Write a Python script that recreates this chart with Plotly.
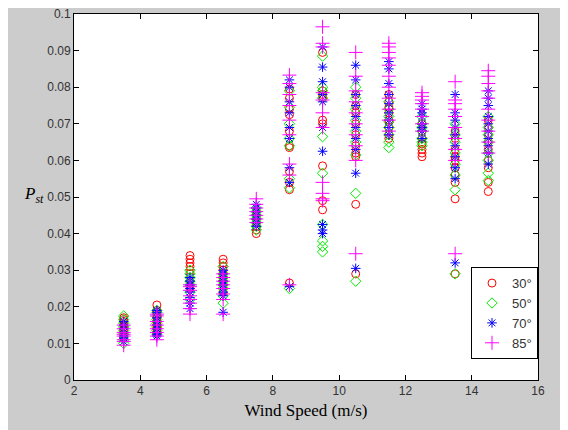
import plotly.graph_objects as go

# --------------------------------------------------------------
# Data
# --------------------------------------------------------------
wind_speed = [3.5, 4.5, 5.5, 6.5, 7.5, 8.5, 9.5, 10.5, 11.5, 12.5, 13.5, 14.5]
angle_names = ["30°", "50°", "70°", "85°"]

pst_30 = [
    [0.0115, 0.0125, 0.0135, 0.014, 0.015, 0.016, 0.0165, 0.017],
    [0.013, 0.014, 0.015, 0.016, 0.017, 0.018, 0.019, 0.0205],
    [0.025, 0.027, 0.029, 0.030, 0.031, 0.032, 0.033, 0.034],
    [0.024, 0.026, 0.027, 0.028, 0.029, 0.030, 0.031, 0.032, 0.033],
    [0.040, 0.041, 0.042, 0.043, 0.044, 0.045, 0.046],
    [0.0265, 0.052, 0.054, 0.057, 0.0635, 0.064, 0.068, 0.0725, 0.074, 0.077, 0.0795],
    [0.0465, 0.049, 0.0585, 0.070, 0.071, 0.077, 0.078, 0.079, 0.0895],
    [0.029, 0.048, 0.061, 0.062, 0.064, 0.067, 0.070, 0.073, 0.075, 0.078],
    [0.066, 0.067, 0.069, 0.071, 0.073, 0.0745, 0.076, 0.078],
    [0.061, 0.062, 0.063, 0.0645, 0.066, 0.068, 0.070],
    [0.029, 0.0495, 0.054, 0.056, 0.058, 0.060, 0.061, 0.063, 0.066, 0.068],
    [0.0515, 0.054, 0.058, 0.060, 0.063, 0.065, 0.067, 0.069, 0.071],
]
pst_50 = [
    [0.010, 0.011, 0.0125, 0.0135, 0.0145, 0.0155, 0.0165, 0.0175],
    [0.0125, 0.0135, 0.0145, 0.0155, 0.0165, 0.0175, 0.0185, 0.019],
    [0.022, 0.024, 0.026, 0.027, 0.028, 0.029, 0.030],
    [0.021, 0.023, 0.025, 0.026, 0.027, 0.028, 0.029, 0.031],
    [0.041, 0.042, 0.043, 0.044, 0.045, 0.046, 0.047],
    [0.025, 0.0525, 0.055, 0.064, 0.066, 0.070, 0.0745, 0.079],
    [0.035, 0.0365, 0.038, 0.0425, 0.0565, 0.0665, 0.077, 0.079, 0.080, 0.0885],
    [0.027, 0.051, 0.0615, 0.065, 0.068, 0.071, 0.074, 0.077, 0.080],
    [0.0635, 0.065, 0.067, 0.069, 0.0705, 0.072, 0.074, 0.076],
    [0.064, 0.065, 0.066, 0.068, 0.069, 0.070, 0.072],
    [0.029, 0.052, 0.056, 0.059, 0.062, 0.065, 0.067, 0.070],
    [0.0545, 0.0565, 0.060, 0.062, 0.065, 0.067, 0.069, 0.072],
]
pst_70 = [
    [0.0105, 0.0115, 0.012, 0.013, 0.014, 0.015, 0.016],
    [0.012, 0.0125, 0.013, 0.014, 0.015, 0.016, 0.017, 0.0185, 0.019],
    [0.0195, 0.021, 0.0225, 0.024, 0.025, 0.026, 0.027, 0.028],
    [0.0185, 0.023, 0.024, 0.025, 0.026, 0.027, 0.028, 0.029, 0.030],
    [0.042, 0.043, 0.044, 0.045, 0.046, 0.047, 0.048],
    [0.0255, 0.054, 0.058, 0.066, 0.069, 0.073, 0.076, 0.080, 0.082],
    [0.040, 0.041, 0.0425, 0.0625, 0.069, 0.076, 0.078, 0.0815, 0.0855, 0.091],
    [0.0305, 0.0565, 0.063, 0.066, 0.069, 0.072, 0.075, 0.078, 0.082, 0.086],
    [0.067, 0.069, 0.071, 0.073, 0.0755, 0.078, 0.081, 0.085, 0.087],
    [0.066, 0.068, 0.069, 0.070, 0.072, 0.073, 0.074, 0.0755],
    [0.032, 0.055, 0.058, 0.061, 0.064, 0.067, 0.069, 0.071, 0.073, 0.078],
    [0.059, 0.062, 0.064, 0.066, 0.068, 0.070, 0.072, 0.075, 0.077, 0.079],
]
pst_85 = [
    [0.0095, 0.0105, 0.011, 0.012, 0.0125, 0.013, 0.014, 0.015],
    [0.011, 0.012, 0.013, 0.014, 0.015, 0.016, 0.0175, 0.018],
    [0.018, 0.0195, 0.021, 0.022, 0.023, 0.0245, 0.0255, 0.026],
    [0.018, 0.022, 0.0235, 0.025, 0.026, 0.027, 0.028, 0.029],
    [0.043, 0.044, 0.045, 0.046, 0.047, 0.048, 0.0495],
    [0.026, 0.056, 0.059, 0.067, 0.071, 0.075, 0.078, 0.081, 0.0833],
    [0.049, 0.0495, 0.051, 0.054, 0.069, 0.073, 0.0765, 0.0785, 0.091, 0.092, 0.0965],
    [0.0345, 0.060, 0.064, 0.067, 0.070, 0.073, 0.076, 0.079, 0.083, 0.0895],
    [0.068, 0.071, 0.074, 0.077, 0.080, 0.083, 0.086, 0.088, 0.0895, 0.091, 0.092],
    [0.068, 0.070, 0.072, 0.074, 0.0755, 0.0765, 0.0775, 0.0785],
    [0.0345, 0.060, 0.063, 0.066, 0.069, 0.072, 0.074, 0.0755, 0.0765, 0.0815],
    [0.062, 0.065, 0.068, 0.071, 0.074, 0.077, 0.079, 0.081, 0.083, 0.0845],
]

# --------------------------------------------------------------
# Plot
# --------------------------------------------------------------
series = [pst_30, pst_50, pst_70, pst_85]
colors = ["#ff0000", "#00ee00", "#0000ff", "#ff00ff"]
symbols = ["circle-open", "diamond-open", "asterisk-open", "cross-thin-open"]
sizes = [8, 8, 8, 10]

fig = go.Figure()
for name, vals, col, sym, sz in zip(angle_names, series, colors, symbols, sizes):
    xs, ys = [], []
    for ws, group in zip(wind_speed, vals):
        xs += [ws] * len(group)
        ys += group
    fig.add_trace(go.Scatter(
        x=xs, y=ys, mode="markers", name=name,
        marker=dict(symbol=sym, color=col, size=sz, line=dict(width=1, color=col)),
    ))

axis_style = dict(
    showline=True, linecolor="black", linewidth=1, mirror="ticks",
    ticks="inside", ticklen=5, tickcolor="black", showgrid=False, zeroline=False,
    automargin=False, ticklabeloverflow="allow",
    tickfont=dict(family="Liberation Sans, Arial", size=12, color="#333333"),
)

# page body adds ~8px offset, margins compensate for it
fig.update_layout(
    width=568, height=430,
    paper_bgcolor="#cccccc",
    plot_bgcolor="white",
    margin=dict(l=66, r=38, t=6, b=58),
    showlegend=True,
    legend=dict(
        x=1, xanchor="right", y=0.057, yanchor="bottom",
        bgcolor="white", bordercolor="black", borderwidth=1,
        font=dict(family="Liberation Sans, Arial", size=13, color="#333333"),
        tracegroupgap=0, itemwidth=30,
    ),
    xaxis=dict(range=[2, 16], dtick=2,
               title=dict(text="Wind Speed (m/s)", standoff=6,
                          font=dict(family="Liberation Serif, Times New Roman", size=17, color="black")),
               **axis_style),
    yaxis=dict(range=[0, 0.1], dtick=0.01, **axis_style),
)

fig.add_annotation(
    text="<i>P</i><sub><i>st</i></sub>", xref="paper", yref="paper",
    x=-0.112, y=0.505, showarrow=False, xanchor="left",
    font=dict(family="Liberation Serif, Times New Roman", size=17, color="black"),
)

fig.write_html("out.html")
